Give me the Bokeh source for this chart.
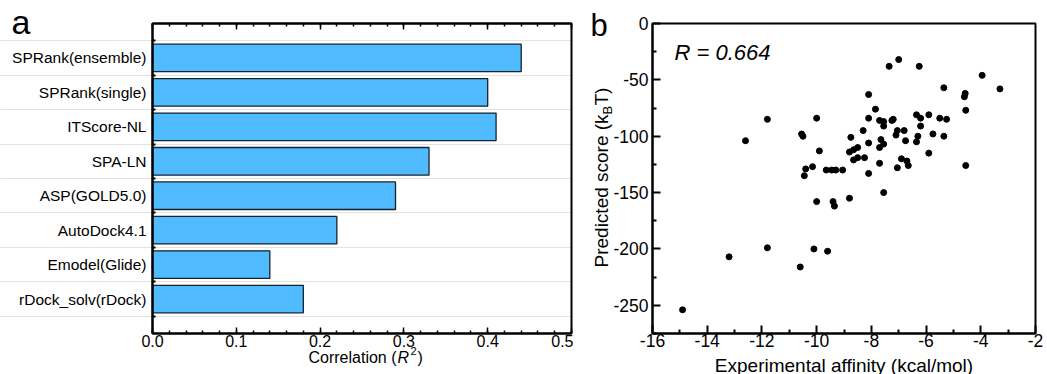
import numpy as np
from math import pi
from bokeh.plotting import figure
from bokeh.layouts import row
from bokeh.models import (FixedTicker, LinearAxis, Label, Range1d, ColumnDataSource,
                          BoxAnnotation)
from bokeh.embed import file_html
from bokeh.resources import INLINE

# ---------------- data ----------------
methods = ["SPRank(ensemble)", "SPRank(single)", "ITScore-NL", "SPA-LN",
           "ASP(GOLD5.0)", "AutoDock4.1", "Emodel(Glide)", "rDock_solv(rDock)"]
r2_values = [0.44, 0.40, 0.41, 0.33, 0.29, 0.22, 0.14, 0.18]
bar_x_ticks = [0.0, 0.1, 0.2, 0.3, 0.4, 0.5]

exp_affinity = [-14.9, -13.2, -11.8, -10.6, -10.1, -9.6, -10.0, -9.4, -9.35, -8.8,
                -7.55, -12.6, -11.8, -10.55, -10.5, -10.0, -9.9, -10.4, -10.45, -10.15,
                -9.65, -9.45, -9.3, -9.05, -8.75, -8.8, -8.65, -8.5, -8.65, -8.5,
                -8.3, -8.25, -8.1, -7.85, -8.1, -8.1, -8.1, -7.7, -7.65, -7.7,
                -7.7, -7.55, -7.55, -7.25, -7.2, -7.35, -7.0, -6.25, -7.55, -7.05,
                -7.1, -6.8, -6.75, -6.9, -6.7, -6.65, -7.05, -6.35, -6.2, -6.2,
                -6.3, -6.35, -5.9, -5.5, -5.25, -5.75, -5.35, -5.9, -5.35, -4.57,
                -4.6, -4.55, -4.55, -3.95, -3.3]
pred_score = [-254, -207, -199, -216, -200, -202, -158, -158, -162, -155,
              -150, -104, -85, -98, -100, -84, -113, -129, -135, -127,
              -130, -130, -130, -130, -101, -114, -112, -110, -121, -119,
              -95, -119, -63, -76, -84, -106, -133, -86, -103, -110,
              -124, -87, -91, -86, -85, -38, -32, -38, -107, -95,
              -99, -95, -104, -120, -122, -126, -128, -81, -84, -91,
              -100, -105, -81, -84, -85, -98, -100, -115, -57, -62,
              -65, -77, -126, -46, -58]
scatter_x_ticks = [-16, -14, -12, -10, -8, -6, -4, -2]
scatter_y_ticks = [0, -50, -100, -150, -200, -250]
r_text = "R = 0.664"

FONT = "Liberation Sans"
H = 374  # canvas height


def padded_range(lo, hi, px_lo, px_inner, px_hi):
    """Range whose [lo, hi] part occupies px_inner pixels, with px_lo / px_hi pixels of margin."""
    k = (hi - lo) / px_inner
    return Range1d(lo - px_lo * k, hi + px_hi * k)


def bare_figure(w, xr, yr):
    p = figure(width=w, height=H, output_backend="svg", toolbar_location=None,
               x_range=xr, y_range=yr, min_border=0, min_border_left=0,
               min_border_right=0, min_border_top=0, min_border_bottom=0)
    p.outline_line_color = None
    return p


def style_axis(ax, tin, mtin, lw, font_size, standoff):
    ax.major_tick_in = tin
    ax.major_tick_out = 0
    ax.minor_tick_in = mtin
    ax.minor_tick_out = 0
    ax.axis_line_width = 2
    ax.major_tick_line_width = lw
    ax.minor_tick_line_width = lw
    ax.major_label_text_font = FONT
    ax.major_label_text_font_size = font_size
    ax.major_label_text_color = "black"
    ax.major_label_standoff = standoff


# ---------------- panel a ----------------
n = len(methods)
ypos = list(range(n, 0, -1))
src = ColumnDataSource(dict(y=ypos, r=r2_values, name=methods))

W1 = 573
p1 = bare_figure(W1, padded_range(0, 0.5, 152, 419, W1 - 152 - 419),
                 padded_range(0, n + 1, H - 23 - 310, 310, 23))
p1.hbar(y="y", left=0, right="r", height=0.8, source=src,
        fill_color="#50BBFF", line_color="#16222e", line_width=1.3)

minor_x = [round(v, 2) for v in np.arange(0, 0.501, 0.02)]
boundaries = [i + 0.5 for i in range(0, n + 1)]

xa = p1.xaxis[0]
xa.fixed_location = 0
xa.bounds = (0, 0.5)
xa.ticker = FixedTicker(ticks=bar_x_ticks, minor_ticks=minor_x)
xa.major_label_overrides = {t: f"{t:.1f}" for t in bar_x_ticks}
style_axis(xa, 6, 3, 1.5, "16px", 1)

top_ax = LinearAxis(ticker=FixedTicker(ticks=bar_x_ticks, minor_ticks=minor_x),
                    fixed_location=n + 1, bounds=(0, 0.5),
                    major_label_overrides={t: "" for t in bar_x_ticks})
style_axis(top_ax, 6, 3, 1.5, "16px", 4)
p1.add_layout(top_ax, "above")

ya = p1.yaxis[0]
ya.fixed_location = 0
ya.bounds = (0, n + 1)
ya.ticker = FixedTicker(ticks=ypos, minor_ticks=boundaries)
ya.major_label_overrides = {y: m for y, m in zip(ypos, methods)}
style_axis(ya, 0, 3, 2, "15.5px", 6)

p1.xgrid.visible = False
p1.ygrid.ticker = FixedTicker(ticks=boundaries)
p1.ygrid.bounds = (0, 0.5)
p1.ygrid.grid_line_color = "#c4c4c4"
p1.ygrid.grid_line_dash = "1 1"
p1.ygrid.grid_line_width = 1

p1.add_layout(BoxAnnotation(left=0, right=0.5, bottom=0, top=n + 1, fill_alpha=0,
                            line_color="black", line_width=2, line_alpha=1))

# x label: Correlation (R^2)
lab_kw = dict(x=0, y=0, text_font=FONT, text_color="black", text_baseline="alphabetic")
p1.add_layout(Label(text="Correlation (", x_offset=244, y_offset=-24, text_align="right",
                    text_font_size="16px", **lab_kw))
p1.add_layout(Label(text="R", x_offset=245, y_offset=-24, text_align="left",
                    text_font_size="16px", text_font_style="italic", **lab_kw))
p1.add_layout(Label(text="2", x_offset=258, y_offset=-17, text_align="left",
                    text_font_size="11px", **lab_kw))
p1.add_layout(Label(text=")", x_offset=265, y_offset=-24, text_align="left",
                    text_font_size="16px", **lab_kw))
# panel letter
p1.add_layout(Label(x=0, y=n + 1, x_offset=-141, y_offset=2, text="a", text_font=FONT,
                    text_font_size="34px", text_baseline="alphabetic", text_color="black"))

# ---------------- panel b ----------------
W2 = 1047 - W1
p2 = bare_figure(W2, padded_range(-16, -2, 79, 383, W2 - 79 - 383),
                 padded_range(-275, 0, H - 23 - 310, 310, 23))
p2.grid.visible = False
p2.scatter(exp_affinity, pred_score, size=6, color="black")

xb = p2.xaxis[0]
xb.fixed_location = -275
xb.bounds = (-16, -2)
xb.ticker = FixedTicker(ticks=scatter_x_ticks, minor_ticks=list(range(-15, -2, 2)))
xb.major_label_overrides = {t: str(t) for t in scatter_x_ticks}
style_axis(xb, 8, 4, 2, "17.5px", 0)

yb = p2.yaxis[0]
yb.fixed_location = -16
yb.bounds = (-275, 0)
yb.ticker = FixedTicker(ticks=scatter_y_ticks, minor_ticks=list(range(-25, -276, -50)))
yb.major_label_overrides = {t: str(t) for t in scatter_y_ticks}
style_axis(yb, 8, 4, 2, "17.5px", 4)

p2.add_layout(BoxAnnotation(left=-16, right=-2, bottom=-275, top=0, fill_alpha=0,
                            line_color="black", line_width=2, line_alpha=1))

p2.add_layout(Label(x=-16, y=0, x_offset=22, y_offset=-29, text=r_text, text_font=FONT,
                    text_font_size="22px", text_font_style="italic", text_color="black",
                    text_baseline="alphabetic"))
p2.add_layout(Label(x=-16, y=0, x_offset=-62, y_offset=-2, text="b", text_font=FONT,
                    text_font_size="31px", text_baseline="alphabetic", text_color="black"))

# x label
p2.add_layout(Label(x=-9, y=-275, y_offset=-32, text="Experimental affinity (kcal/mol)",
                    text_font=FONT, text_font_size="19px", text_align="center",
                    text_baseline="alphabetic", text_color="black"))
# y label: Predicted score (k_B T)
ykw = dict(x=-16, y=-275, angle=pi / 2, text_font=FONT, text_color="black",
           text_baseline="alphabetic", text_align="left")
p2.add_layout(Label(text="Predicted score (k", x_offset=-51, y_offset=66,
                    text_font_size="19px", **ykw))
p2.add_layout(Label(text="B", x_offset=-45, y_offset=219, text_font_size="13px", **ykw))
p2.add_layout(Label(text="T)", x_offset=-51, y_offset=228, text_font_size="19px", **ykw))

layout = row(p1, p2)
open("out.html", "w").write(file_html(layout, INLINE))
